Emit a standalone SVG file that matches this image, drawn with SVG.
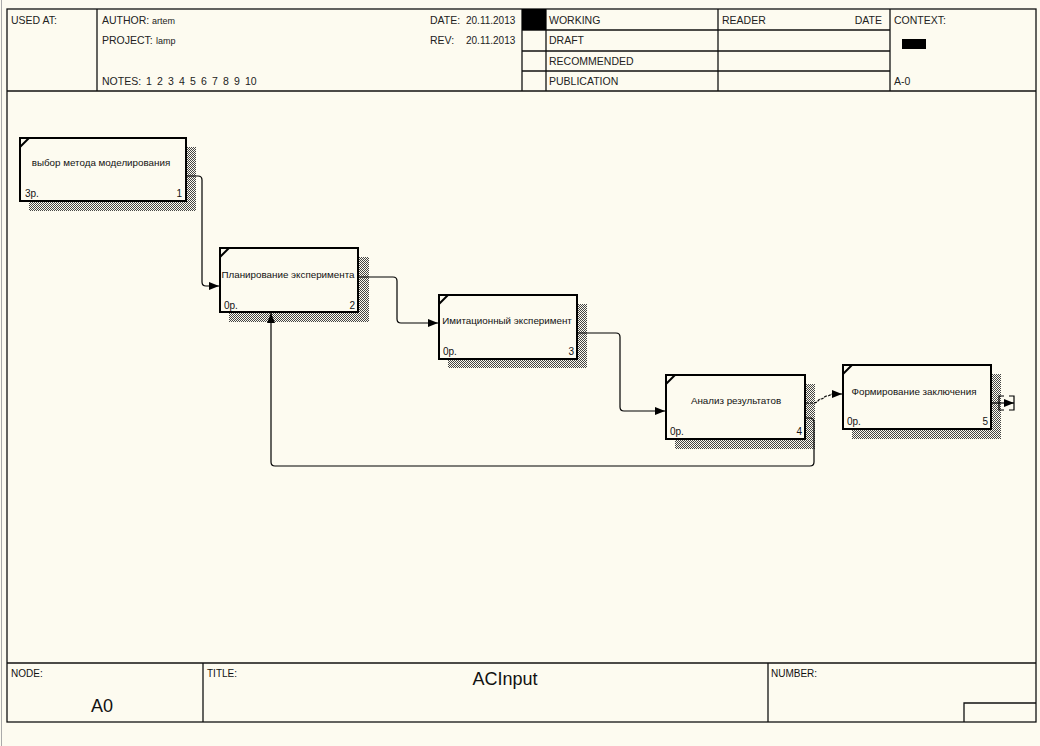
<svg xmlns="http://www.w3.org/2000/svg" width="1040" height="746" viewBox="0 0 1040 746">
<defs>
<pattern id="hatch" width="2" height="2" patternUnits="userSpaceOnUse">
<rect width="2" height="2" fill="#fdfbf0"/>
<rect x="0" y="0" width="1" height="1" fill="#444"/>
<rect x="1" y="1" width="1" height="1" fill="#444"/>
</pattern>
<marker id="ah" viewBox="0 0 10 8" refX="10" refY="4" markerWidth="10" markerHeight="8" markerUnits="userSpaceOnUse" orient="auto">
<path d="M0,0 L10,4 L0,8 Z" fill="#000"/>
</marker>
</defs>
<style>
.t{font-family:"Liberation Sans",Arial,sans-serif;font-size:10.5px;fill:#222}
.v{font-family:"Liberation Sans",Arial,sans-serif;font-size:10px;fill:#222}
.s{font-family:"Liberation Sans",Arial,sans-serif;font-size:9px;fill:#222}
.b{font-family:"Liberation Sans",Arial,sans-serif;font-size:10px;fill:#111}
.bx{font-family:"Liberation Sans",Arial,sans-serif;font-size:9.8px;fill:#111}
.big{font-family:"Liberation Sans",Arial,sans-serif;font-size:18px;fill:#111}
.fr{fill:none;stroke:#111;stroke-width:1.3}
.box{fill:#fdfbf0;stroke:#000;stroke-width:2}
.sh{fill:url(#hatch)}
.cn{fill:none;stroke:#000;stroke-width:1.2}
.dg{stroke:#000;stroke-width:2}
</style>
<rect width="1040" height="746" fill="#fdfbf0"/>
<line x1="1.5" y1="0" x2="1.5" y2="746" stroke="#aaa" stroke-width="1"/>

<g id="frame">
<rect class="fr" x="7" y="9" width="1029" height="713"/>
<line class="fr" x1="7" y1="91" x2="1036" y2="91"/>
<line class="fr" x1="97" y1="9" x2="97" y2="91"/>
<line class="fr" x1="522" y1="9" x2="522" y2="91"/>
<line class="fr" x1="546" y1="9" x2="546" y2="91"/>
<line class="fr" x1="718" y1="9" x2="718" y2="91"/>
<line class="fr" x1="890" y1="9" x2="890" y2="91"/>
<line class="fr" x1="522" y1="30" x2="890" y2="30"/>
<line class="fr" x1="522" y1="51" x2="890" y2="51"/>
<line class="fr" x1="522" y1="71" x2="890" y2="71"/>
<rect x="522" y="9" width="24" height="21" fill="#000"/>
<rect x="902" y="39" width="24" height="10" fill="#000"/>
<line class="fr" x1="7" y1="663" x2="1036" y2="663"/>
<line class="fr" x1="203" y1="663" x2="203" y2="722"/>
<line class="fr" x1="768" y1="663" x2="768" y2="722"/>
<polyline class="fr" points="964,722 964,703 1036,703"/>
</g>

<g id="header-text">
<text class="t" x="11" y="24">USED AT:</text>
<text class="t" x="102" y="24">AUTHOR:</text>
<text class="s" x="152" y="24">artem</text>
<text class="t" x="102" y="44">PROJECT:</text>
<text class="s" x="156" y="44">lamp</text>
<text class="t" x="102" y="85">NOTES:</text>
<text class="t" y="85"><tspan x="146">1</tspan><tspan x="157">2</tspan><tspan x="168">3</tspan><tspan x="179">4</tspan><tspan x="190">5</tspan><tspan x="201">6</tspan><tspan x="212">7</tspan><tspan x="223">8</tspan><tspan x="234">9</tspan><tspan x="245">10</tspan></text>
<text class="t" x="430" y="24">DATE:</text>
<text class="v" x="466" y="24">20.11.2013</text>
<text class="t" x="430" y="44">REV:</text>
<text class="v" x="466" y="44">20.11.2013</text>
<text class="t" x="549" y="24">WORKING</text>
<text class="t" x="549" y="44">DRAFT</text>
<text class="t" x="549" y="65">RECOMMENDED</text>
<text class="t" x="549" y="85">PUBLICATION</text>
<text class="t" x="722" y="24">READER</text>
<text class="t" x="882" y="24" text-anchor="end">DATE</text>
<text class="t" x="894" y="24">CONTEXT:</text>
<text class="t" x="894" y="85">A-0</text>
</g>

<g id="footer-text">
<text class="b" x="11" y="677">NODE:</text>
<text class="big" x="91" y="712">A0</text>
<text class="b" x="207" y="677">TITLE:</text>
<text class="big" x="505" y="685" text-anchor="middle">ACInput</text>
<text class="b" x="771" y="677">NUMBER:</text>
</g>

<g id="node1">
<rect class="sh" x="29" y="147" width="167" height="64"/>
<rect class="box" x="20" y="138" width="166" height="63"/>
<line class="dg" x1="20" y1="147" x2="29" y2="138"/>
<text class="bx" x="101" y="166" text-anchor="middle">выбор метода моделирования</text>
<text class="b" x="25" y="197">3р.</text>
<text class="b" x="182" y="197" text-anchor="end">1</text>
</g>

<g id="node2">
<rect class="sh" x="229" y="257" width="140" height="65"/>
<rect class="box" x="220" y="248" width="138" height="64"/>
<line class="dg" x1="220" y1="257" x2="229" y2="248"/>
<text class="bx" x="288" y="278" text-anchor="middle">Планирование эксперимента</text>
<text class="b" x="224" y="309">0р.</text>
<text class="b" x="355" y="309" text-anchor="end">2</text>
</g>

<g id="node3">
<rect class="sh" x="448" y="304" width="139" height="64"/>
<rect class="box" x="439" y="295" width="138" height="64"/>
<line class="dg" x1="439" y1="304" x2="448" y2="295"/>
<text class="bx" x="507" y="324" text-anchor="middle">Имитационный эксперимент</text>
<text class="b" x="443" y="355">0р.</text>
<text class="b" x="574" y="355" text-anchor="end">3</text>
</g>

<g id="node4">
<rect class="sh" x="675" y="384" width="140" height="65"/>
<rect class="box" x="666" y="375" width="139" height="64"/>
<line class="dg" x1="666" y1="384" x2="675" y2="375"/>
<text class="bx" x="736" y="404" text-anchor="middle">Анализ результатов</text>
<text class="b" x="670" y="435">0р.</text>
<text class="b" x="802" y="435" text-anchor="end">4</text>
</g>

<g id="node5">
<rect class="sh" x="852" y="374" width="149" height="65"/>
<rect class="box" x="843" y="365" width="148" height="64"/>
<line class="dg" x1="843" y1="374" x2="852" y2="365"/>
<text class="bx" x="914" y="395" text-anchor="middle">Формирование заключения</text>
<text class="b" x="847" y="425">0р.</text>
<text class="b" x="988" y="425" text-anchor="end">5</text>
</g>

<g id="connectors">
<path class="cn" d="M187,176 H198 Q202,176 202,180 V282 Q202,286 206,286 H219" marker-end="url(#ah)"/>
<path class="cn" d="M359,277 H393 Q397,277 397,281 V319 Q397,323 401,323 H438" marker-end="url(#ah)"/>
<path class="cn" d="M578,333 H616 Q620,333 620,337 V407 Q620,411 624,411 H665" marker-end="url(#ah)"/>
<path class="cn" d="M806,403 H814 C818,403 818,399 821,399 C824,399 824,396 827,396 C830,396 830,394 833,394 H842" marker-end="url(#ah)" stroke-dasharray="3,1"/>
<path class="cn" d="M806,418 H810 Q814,418 814,422 V462 Q814,466 810,466 H275 Q271,466 271,462 V313" marker-end="url(#ah)"/>
<path class="cn" d="M992,403 H1014" marker-end="url(#ah)"/>
<polyline class="cn" points="1004,396 999,396 999,410 1004,410"/>
<polyline class="cn" points="1009,396 1014,396 1014,410 1009,410"/>
</g>
</svg>
